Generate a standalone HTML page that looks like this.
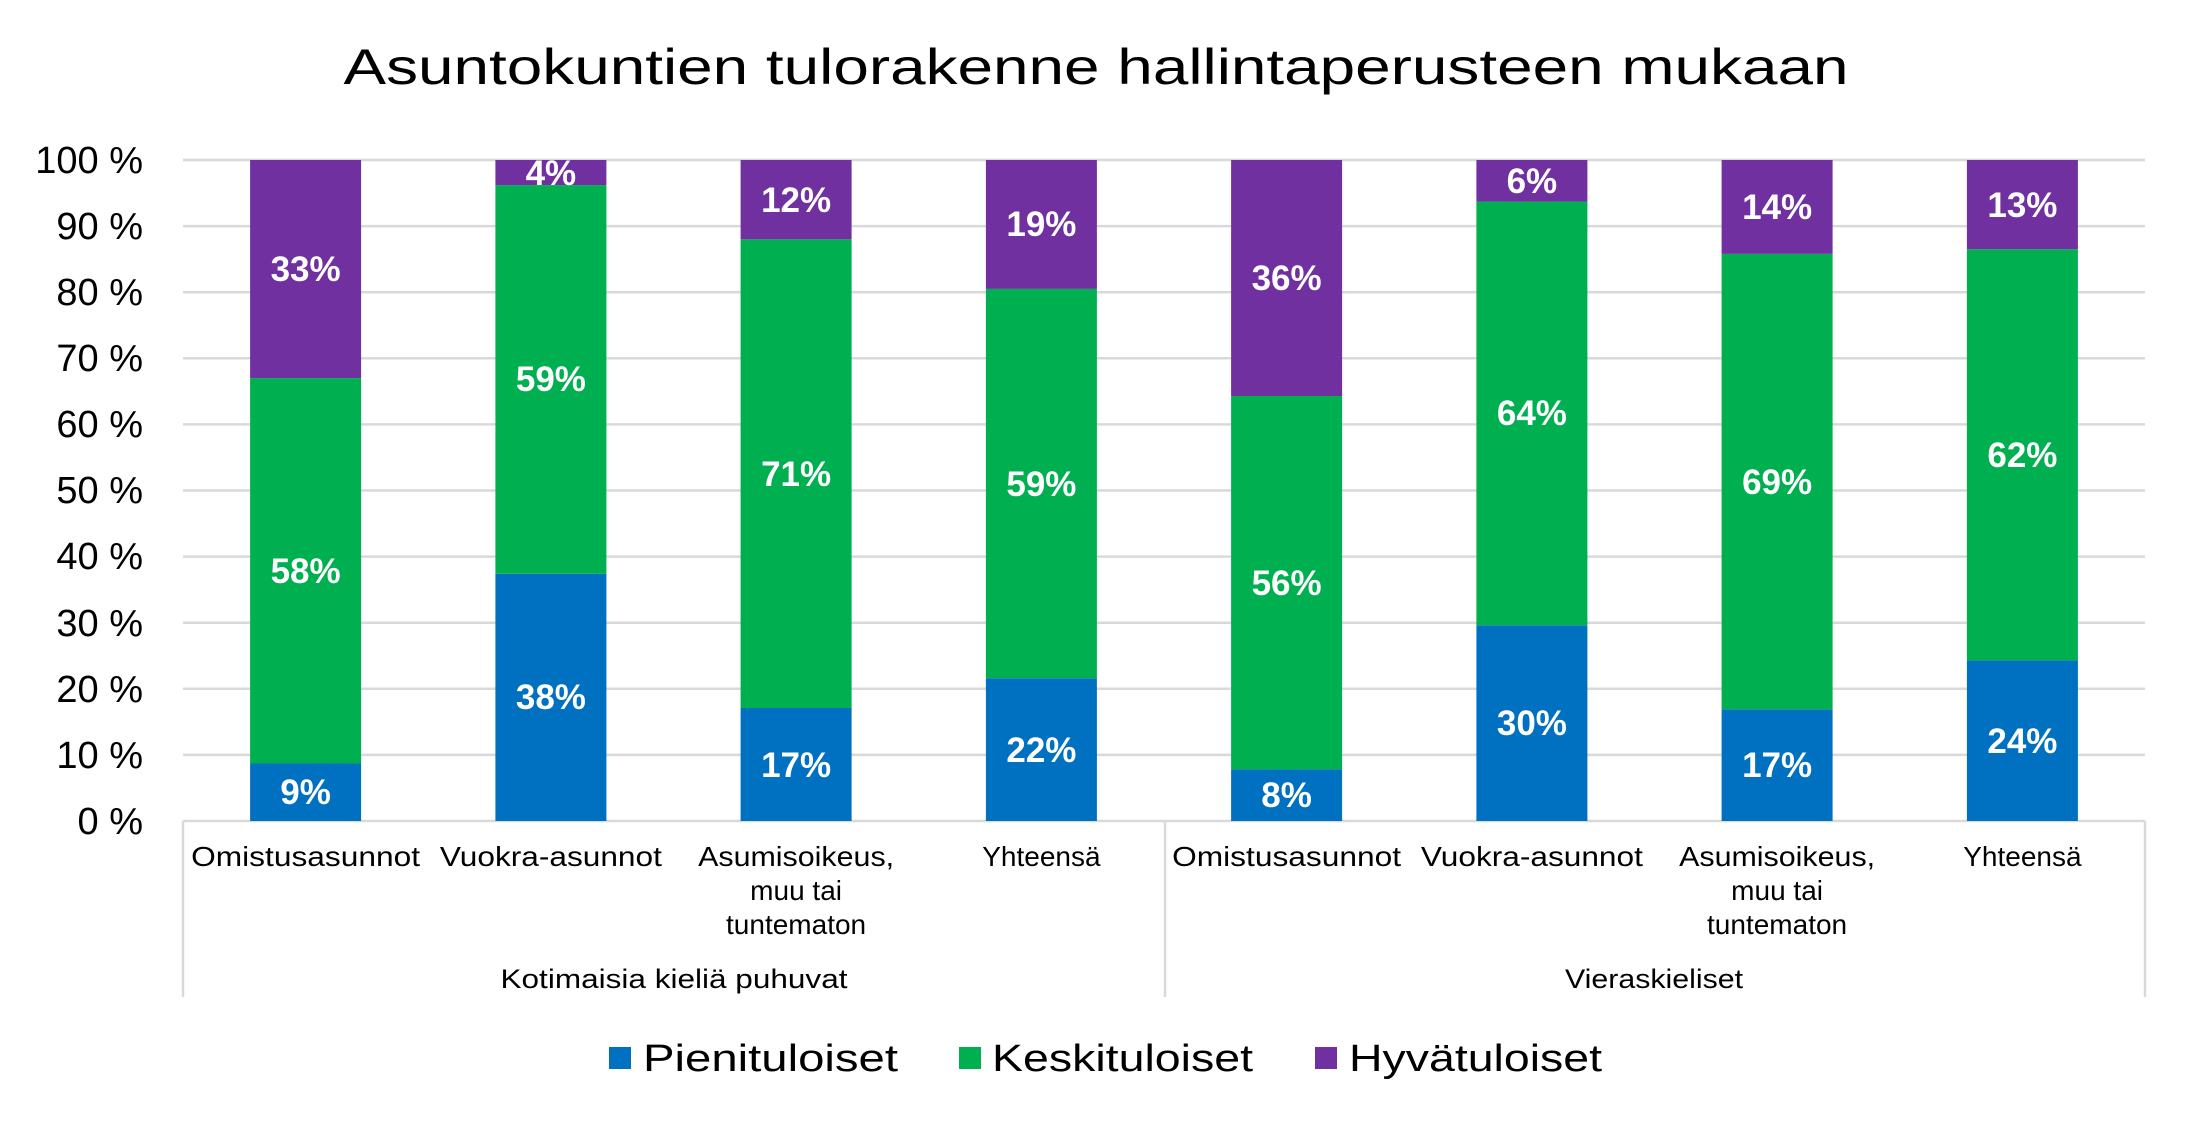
<!DOCTYPE html>
<html><head><meta charset="utf-8"><style>
html,body{margin:0;padding:0;background:#fff;}
svg{display:block;font-family:"Liberation Sans",sans-serif;}
</style></head><body>
<svg width="2196" height="1126" viewBox="0 0 2196 1126" xmlns="http://www.w3.org/2000/svg">
<text x="1096" y="84" font-size="50" text-anchor="middle" textLength="1505" lengthAdjust="spacingAndGlyphs" fill="#000">Asuntokuntien tulorakenne hallintaperusteen mukaan</text>
<g stroke="#d9d9d9" stroke-width="2.5">
<line x1="183" x2="2145" y1="160" y2="160"/><line x1="183" x2="2145" y1="226.1" y2="226.1"/>
<line x1="183" x2="2145" y1="292.2" y2="292.2"/><line x1="183" x2="2145" y1="358.3" y2="358.3"/>
<line x1="183" x2="2145" y1="424.4" y2="424.4"/><line x1="183" x2="2145" y1="490.5" y2="490.5"/>
<line x1="183" x2="2145" y1="556.6" y2="556.6"/><line x1="183" x2="2145" y1="622.7" y2="622.7"/>
<line x1="183" x2="2145" y1="688.8" y2="688.8"/><line x1="183" x2="2145" y1="754.9" y2="754.9"/>
<line x1="183" x2="2145" y1="821" y2="821"/>
<line x1="183" x2="183" y1="821" y2="997"/><line x1="1165" x2="1165" y1="821" y2="997"/><line x1="2145" x2="2145" y1="821" y2="997"/>
</g>
<g font-size="38" text-anchor="end" fill="#000">
<text x="143" y="173">100 %</text><text x="143" y="239">90 %</text><text x="143" y="305">80 %</text>
<text x="143" y="371">70 %</text><text x="143" y="437">60 %</text><text x="143" y="503">50 %</text>
<text x="143" y="569">40 %</text><text x="143" y="636">30 %</text><text x="143" y="702">20 %</text>
<text x="143" y="768">10 %</text><text x="143" y="834">0 %</text>
</g>
<g>
<rect x="250.1" y="763.5" width="111" height="57.5" fill="#0070C0"/><rect x="250.1" y="378.1" width="111" height="385.4" fill="#00B050"/><rect x="250.1" y="160" width="111" height="218.1" fill="#7030A0"/>
<rect x="495.4" y="573.8" width="111" height="247.2" fill="#0070C0"/><rect x="495.4" y="185.1" width="111" height="388.7" fill="#00B050"/><rect x="495.4" y="160" width="111" height="25.1" fill="#7030A0"/>
<rect x="740.6" y="708" width="111" height="113" fill="#0070C0"/><rect x="740.6" y="239.3" width="111" height="468.7" fill="#00B050"/><rect x="740.6" y="160" width="111" height="79.3" fill="#7030A0"/>
<rect x="985.9" y="678.2" width="111" height="142.8" fill="#0070C0"/><rect x="985.9" y="288.9" width="111" height="389.3" fill="#00B050"/><rect x="985.9" y="160" width="111" height="128.9" fill="#7030A0"/>
<rect x="1231.1" y="769.4" width="111" height="51.6" fill="#0070C0"/><rect x="1231.1" y="396" width="111" height="373.4" fill="#00B050"/><rect x="1231.1" y="160" width="111" height="236" fill="#7030A0"/>
<rect x="1476.4" y="625.3" width="111" height="195.7" fill="#0070C0"/><rect x="1476.4" y="201.6" width="111" height="423.7" fill="#00B050"/><rect x="1476.4" y="160" width="111" height="41.6" fill="#7030A0"/>
<rect x="1721.6" y="709.3" width="111" height="111.7" fill="#0070C0"/><rect x="1721.6" y="253.9" width="111" height="455.4" fill="#00B050"/><rect x="1721.6" y="160" width="111" height="93.9" fill="#7030A0"/>
<rect x="1966.9" y="660.4" width="111" height="160.6" fill="#0070C0"/><rect x="1966.9" y="249.2" width="111" height="411.2" fill="#00B050"/><rect x="1966.9" y="160" width="111" height="89.2" fill="#7030A0"/>
</g>
<g font-size="35" font-weight="bold" fill="#fff" text-anchor="middle">
<text x="305.6" y="804">9%</text><text x="305.6" y="583">58%</text><text x="305.6" y="281">33%</text>
<text x="550.9" y="709">38%</text><text x="550.9" y="391">59%</text><text x="550.9" y="185">4%</text>
<text x="796.1" y="777">17%</text><text x="796.1" y="486">71%</text><text x="796.1" y="212">12%</text>
<text x="1041.4" y="762">22%</text><text x="1041.4" y="496">59%</text><text x="1041.4" y="236">19%</text>
<text x="1286.6" y="807">8%</text><text x="1286.6" y="595">56%</text><text x="1286.6" y="290">36%</text>
<text x="1531.9" y="735">30%</text><text x="1531.9" y="425">64%</text><text x="1531.9" y="193">6%</text>
<text x="1777.1" y="777">17%</text><text x="1777.1" y="494">69%</text><text x="1777.1" y="219">14%</text>
<text x="2022.4" y="753">24%</text><text x="2022.4" y="467">62%</text><text x="2022.4" y="217">13%</text>
</g>
<g font-size="28" text-anchor="middle" fill="#000">
<text x="305.6" y="866" textLength="229" lengthAdjust="spacingAndGlyphs">Omistusasunnot</text><text x="550.9" y="866" textLength="222" lengthAdjust="spacingAndGlyphs">Vuokra-asunnot</text>
<text x="796.1" y="866" textLength="196" lengthAdjust="spacingAndGlyphs">Asumisoikeus,</text><text x="796.1" y="900">muu tai</text><text x="796.1" y="934">tuntematon</text>
<text x="1041.4" y="866">Yhteensä</text>
<text x="1286.6" y="866" textLength="229" lengthAdjust="spacingAndGlyphs">Omistusasunnot</text><text x="1531.9" y="866" textLength="222" lengthAdjust="spacingAndGlyphs">Vuokra-asunnot</text>
<text x="1777.1" y="866" textLength="196" lengthAdjust="spacingAndGlyphs">Asumisoikeus,</text><text x="1777.1" y="900">muu tai</text><text x="1777.1" y="934">tuntematon</text>
<text x="2022.4" y="866">Yhteensä</text>
</g>
<g font-size="27" text-anchor="middle" fill="#000">
<text x="674" y="988" textLength="347" lengthAdjust="spacingAndGlyphs">Kotimaisia kieliä puhuvat</text>
<text x="1654" y="988" textLength="178" lengthAdjust="spacingAndGlyphs">Vieraskieliset</text>
</g>
<g font-size="38" fill="#000">
<rect x="609" y="1047" width="22" height="22" fill="#0070C0"/>
<text x="643" y="1071" textLength="255" lengthAdjust="spacingAndGlyphs">Pienituloiset</text>
<rect x="959" y="1047" width="22" height="22" fill="#00B050"/>
<text x="992" y="1071" textLength="261" lengthAdjust="spacingAndGlyphs">Keskituloiset</text>
<rect x="1315" y="1047" width="22" height="22" fill="#7030A0"/>
<text x="1349" y="1071" textLength="253" lengthAdjust="spacingAndGlyphs">Hyvätuloiset</text>
</g>
</svg>
</body></html>
